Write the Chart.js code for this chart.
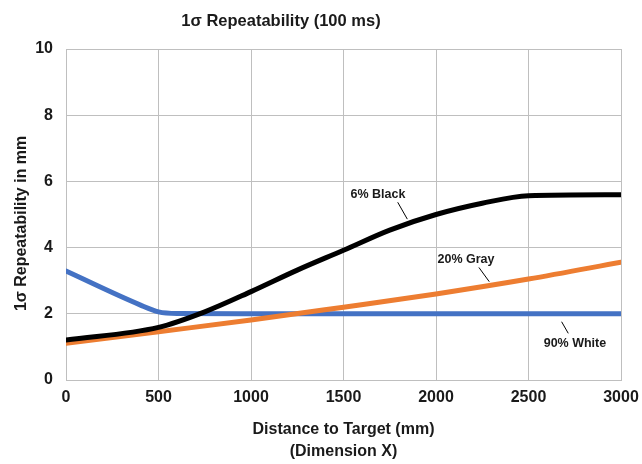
<!DOCTYPE html>
<html>
<head>
<meta charset="utf-8">
<script src="https://cdn.jsdelivr.net/npm/chart.js@4/dist/chart.umd.min.js"></script>
<style>
  html, body { margin: 0; padding: 0; background: #ffffff; }
  #wrap { width: 642px; height: 464px; position: relative; }
</style>
</head>
<body>
<div id="wrap"><canvas id="c" width="642" height="464"></canvas></div>
<script>
const chartTitle = '1σ Repeatability (100 ms)';
const xTitle = ['Distance to Target (mm)', '(Dimension X)'];
const yTitle = '1σ Repeatability in mm    ';

const blackX = [0, 500, 750, 1000, 1250, 1500, 1750, 2000, 2250, 2500, 3000];
const blackY = [1.21, 1.59, 2.06, 2.67, 3.32, 3.92, 4.53, 5.0, 5.34, 5.57, 5.6];

const grayX = [0, 500, 1000, 1500, 2000, 2500, 3000];
const grayY = [1.11, 1.46, 1.81, 2.2, 2.6, 3.05, 3.56];

const whiteX = [0, 400, 500, 600, 1000, 1500, 2000, 2500, 3000];
const whiteY = [3.29, 2.27, 2.06, 2.01, 2.0, 2.0, 2.0, 2.0, 2.0];

const seriesNames = ['6% Black', '20% Gray', '90% White'];
const seriesColors = ['#000000', '#ED7D31', '#4472C4'];

// annotation label anchor (data units) and leader line (data units)
const labelX = [1686, 2162, 2751];
const labelY = [5.61, 3.63, 1.09];
const leaderFromX = [1793, 2232, 2679];
const leaderFromY = [5.37, 3.40, 1.76];
const leaderToX = [1845, 2288, 2715];
const leaderToY = [4.86, 2.97, 1.41];

const FONT = "'Liberation Sans', Arial, sans-serif";
const TEXT = '#1a1a1a';
const GRID = '#bfbfbf';

function pts(xs, ys) { return xs.map((x, i) => ({ x: x, y: ys[i] })); }

const annotate = {
  id: 'annotate',
  afterDatasetsDraw(chart) {
    const ctx = chart.ctx;
    const xs = chart.scales.x, ys = chart.scales.y;
    ctx.save();
    ctx.strokeStyle = '#000000';
    ctx.lineWidth = 1;
    for (let i = 0; i < seriesNames.length; i++) {
      ctx.beginPath();
      ctx.moveTo(xs.getPixelForValue(leaderFromX[i]), ys.getPixelForValue(leaderFromY[i]));
      ctx.lineTo(xs.getPixelForValue(leaderToX[i]), ys.getPixelForValue(leaderToY[i]));
      ctx.stroke();
      ctx.fillStyle = TEXT;
      ctx.font = "bold 12.5px " + FONT;
      ctx.textAlign = 'center';
      ctx.textBaseline = 'middle';
      ctx.fillText(seriesNames[i], xs.getPixelForValue(labelX[i]), ys.getPixelForValue(labelY[i]));
    }
    // chart title
    ctx.font = "bold 16.5px " + FONT;
    ctx.fillStyle = TEXT;
    ctx.textAlign = 'center';
    ctx.textBaseline = 'middle';
    ctx.fillText(chartTitle, 281, 21);
    ctx.restore();
  }
};

new Chart(document.getElementById('c'), {
  type: 'line',
  data: {
    datasets: [
      { label: seriesNames[0], data: pts(blackX, blackY), borderColor: seriesColors[0], borderWidth: 5, pointRadius: 0, cubicInterpolationMode: 'monotone', borderCapStyle: 'round', borderJoinStyle: 'round' },
      { label: seriesNames[1], data: pts(grayX, grayY), borderColor: seriesColors[1], borderWidth: 5, pointRadius: 0, cubicInterpolationMode: 'monotone', borderCapStyle: 'round', borderJoinStyle: 'round' },
      { label: seriesNames[2], data: pts(whiteX, whiteY), borderColor: seriesColors[2], borderWidth: 5, pointRadius: 0, cubicInterpolationMode: 'monotone', borderCapStyle: 'round', borderJoinStyle: 'round' }
    ]
  },
  options: {
    responsive: false,
    animation: false,
    devicePixelRatio: 1,
    layout: { padding: { top: 49, right: 21, left: 0, bottom: 0 } },
    plugins: { legend: { display: false }, title: { display: false }, tooltip: { enabled: false } },
    scales: {
      x: {
        type: 'linear', min: 0, max: 3000,
        ticks: { stepSize: 500, color: TEXT, padding: 0, font: { family: FONT, size: 16, weight: 'bold' }, callback: (v) => String(v) },
        grid: { color: GRID, lineWidth: 1, drawTicks: true, tickLength: 8, tickColor: 'rgba(0,0,0,0)' },
        border: { color: GRID, width: 1 },
        title: { display: true, text: xTitle, color: TEXT, padding: { top: 0, bottom: 2 }, font: { family: FONT, size: 16, weight: 'bold', lineHeight: 1.35 } },
        afterFit(s) { s.height = 84; }
      },
      y: {
        type: 'linear', min: 0, max: 10,
        ticks: { stepSize: 2, color: TEXT, padding: 13, font: { family: FONT, size: 16, weight: 'bold' }, callback: (v) => String(v) },
        grid: { color: GRID, lineWidth: 1, drawTicks: false },
        border: { color: GRID, width: 1 },
        title: { display: true, text: yTitle, color: TEXT, padding: { top: 12, bottom: 0 }, font: { family: FONT, size: 16, weight: 'bold', lineHeight: 1.2 } },
        afterFit(s) { s.width = 66; }
      }
    }
  },
  plugins: [annotate]
});
</script>
</body>
</html>
